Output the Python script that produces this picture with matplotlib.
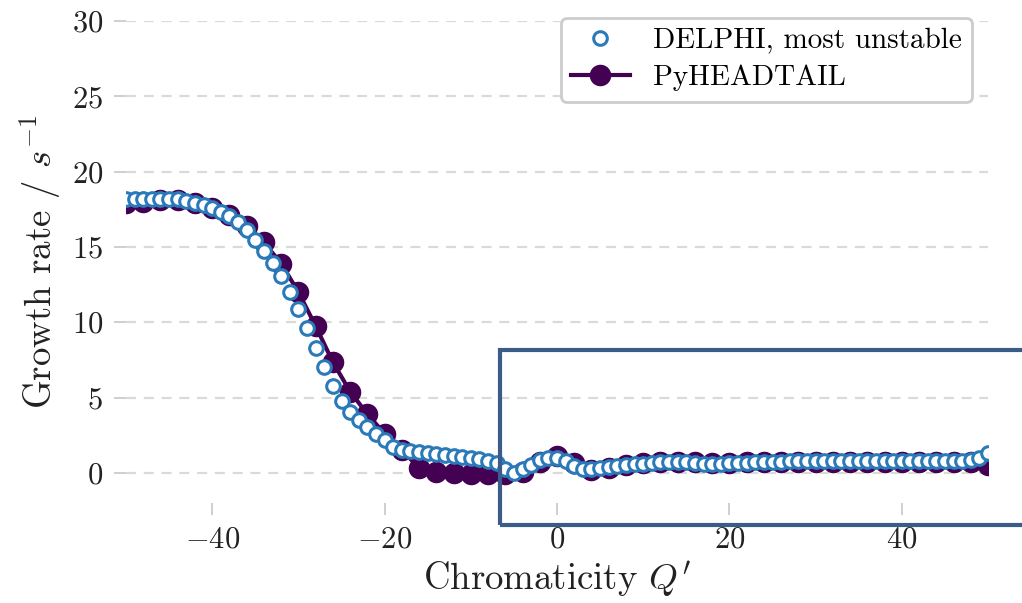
import numpy as np
import matplotlib
matplotlib.use("Agg")
import matplotlib.pyplot as plt
from matplotlib.patches import Rectangle

plt.rcParams['font.family'] = ['cmr10', 'DejaVu Serif']
plt.rcParams['mathtext.fontset'] = 'cm'
plt.rcParams['axes.formatter.use_mathtext'] = True
plt.rcParams['axes.unicode_minus'] = True

# DELPHI, most unstable (Q' = -50 ... 50, step 1)
delphi_q = list(range(-50, 51))
delphi_rate = [
    18.2, 18.2, 18.2, 18.2, 18.2, 18.2, 18.15, 18.05, 17.95, 17.8,
    17.6, 17.35, 17.05, 16.65, 16.1, 15.45, 14.75, 13.95, 13.05, 12.0,
    10.85, 9.6, 8.3, 7.0, 5.75, 4.8, 4.05, 3.5, 3.05, 2.6,
    2.2, 1.7, 1.5, 1.42, 1.36, 1.3, 1.24, 1.18, 1.12, 1.05,
    0.98, 0.9, 0.8, 0.68, 0.25, 0.02, 0.25, 0.55, 0.85, 1.0,
    1.0, 0.8, 0.45, 0.25, 0.25, 0.33, 0.42, 0.48, 0.53, 0.58,
    0.62, 0.66, 0.7, 0.72, 0.72, 0.7, 0.66, 0.62, 0.6, 0.62,
    0.64, 0.66, 0.68, 0.7, 0.72, 0.74, 0.75, 0.76, 0.76, 0.76,
    0.76, 0.76, 0.76, 0.76, 0.76, 0.76, 0.76, 0.76, 0.76, 0.76,
    0.76, 0.76, 0.76, 0.76, 0.77, 0.78, 0.8, 0.82, 0.88, 1.0,
    1.3,
]

# PyHEADTAIL (Q' = -50 ... 50, step 2)
pyht_q = list(range(-50, 51, 2))
pyht_rate = [
    17.9, 18.0, 18.1, 18.1, 17.9, 17.6, 17.1, 16.4, 15.3, 13.9,
    12.0, 9.75, 7.35, 5.4, 3.9, 2.6, 1.55, 0.3, 0.05, 0.0,
    -0.05, -0.1, -0.05, 0.05, 0.7, 1.1, 0.65, 0.2, 0.35, 0.5,
    0.65, 0.75, 0.75, 0.7, 0.65, 0.65, 0.7, 0.75, 0.75, 0.75,
    0.75, 0.75, 0.75, 0.75, 0.75, 0.75, 0.75, 0.75, 0.75, 0.7,
    0.55,
]

xticks = [-40, -20, 0, 20, 40]
yticks = [0, 5, 10, 15, 20, 25, 30]

fig = plt.figure(figsize=(10.22, 6.03), dpi=100)
ax = fig.add_axes([126/1022, 1 - 503/603, (988-126)/1022, (503-21)/603])

ax.plot(pyht_q, pyht_rate, '-o', color='#440154', lw=3, ms=14.5,
        label='PyHEADTAIL', zorder=2)
ax.plot(delphi_q, delphi_rate, 'o', ls='none', mfc='white', mec='#2a7ab9',
        mew=2.2, ms=9.8, label='DELPHI, most unstable', zorder=3)

ax.set_xlim(-50, 50)
ax.set_ylim(-2, 30)
ax.set_xticks(xticks)
ax.set_yticks(yticks)
for s in ax.spines.values():
    s.set_visible(False)
ax.yaxis.grid(True, ls=(0, (4.5, 3.5)), color='#d9dbd7', lw=1.6)
ax.set_axisbelow(True)
ax.tick_params(axis='both', colors='#cccccc', labelcolor='#222222',
               length=8.5, width=1.3, labelsize=22, pad=8)
ax.set_xlabel("Chromaticity $Q'$", fontsize=26.5, color='#222222', labelpad=4)
ax.set_ylabel("Growth rate / $s^{-1}$", fontsize=26.5, color='#222222', labelpad=6)

h, l = ax.get_legend_handles_labels()
leg = ax.legend([h[1], h[0]], [l[1], l[0]], loc='upper right',
                bbox_to_anchor=(972/1022, 1 - 18/603),
                bbox_transform=fig.transFigure, borderaxespad=0,
                fontsize=21, frameon=True, fancybox=True, framealpha=1,
                edgecolor='#cccccc', handlelength=2.0, borderpad=0.35,
                labelspacing=0.35)
leg.get_frame().set_linewidth(2)

rect = Rectangle((-6.6, -3.45), 70, 11.6, fill=False, ec='#3b5b88', lw=3,
                 clip_on=False, zorder=5)
ax.add_patch(rect)

fig.savefig('out.png', dpi=100)
